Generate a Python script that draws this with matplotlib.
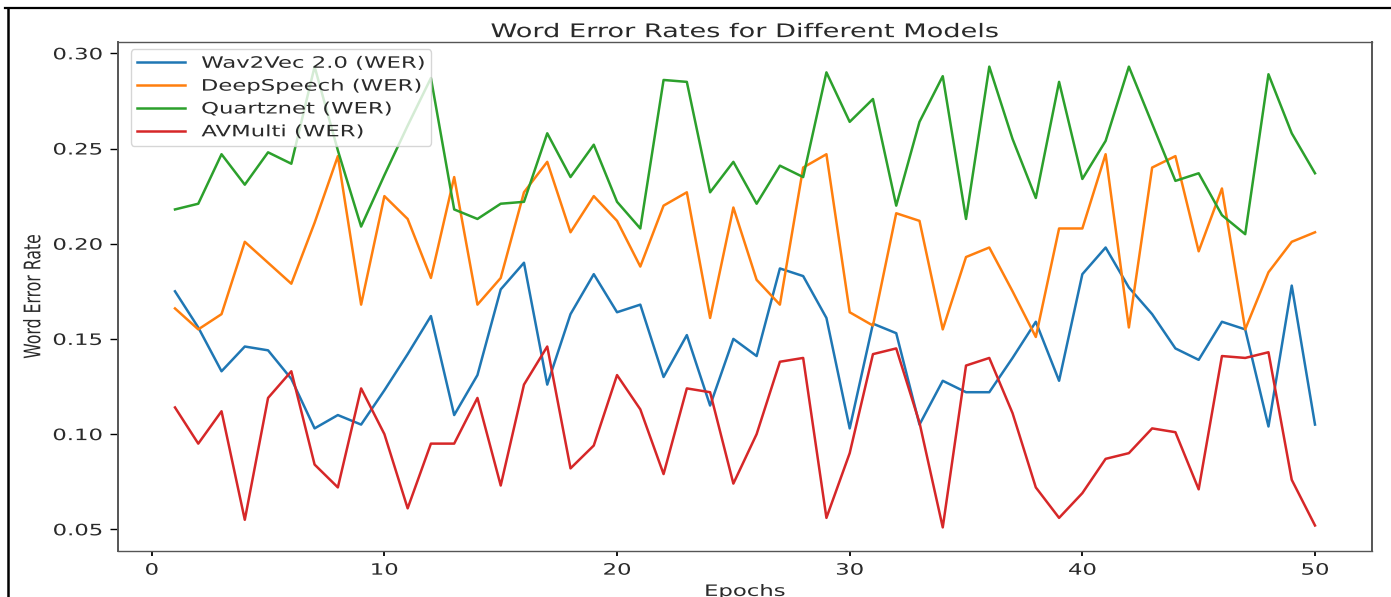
import matplotlib
matplotlib.use("Agg")
import matplotlib.pyplot as plt
from matplotlib.lines import Line2D
from matplotlib.patheffects import AbstractPathEffect
from matplotlib.transforms import Affine2D

# Word error rate per epoch for each model
epochs = list(range(1, 51))
wav2vec_wer = [0.175, 0.156, 0.133, 0.146, 0.144, 0.129, 0.103, 0.110, 0.105, 0.123,
               0.142, 0.162, 0.110, 0.131, 0.176, 0.190, 0.126, 0.163, 0.184, 0.164,
               0.168, 0.130, 0.152, 0.115, 0.150, 0.141, 0.187, 0.183, 0.161, 0.103,
               0.158, 0.153, 0.105, 0.128, 0.122, 0.122, 0.140, 0.159, 0.128, 0.184,
               0.198, 0.177, 0.163, 0.145, 0.139, 0.159, 0.155, 0.104, 0.178, 0.105]
deepspeech_wer = [0.166, 0.155, 0.163, 0.201, 0.190, 0.179, 0.211, 0.246, 0.168, 0.225,
                  0.213, 0.182, 0.235, 0.168, 0.182, 0.227, 0.243, 0.206, 0.225, 0.212,
                  0.188, 0.220, 0.227, 0.161, 0.219, 0.181, 0.168, 0.240, 0.247, 0.164,
                  0.157, 0.216, 0.212, 0.155, 0.193, 0.198, 0.175, 0.151, 0.208, 0.208,
                  0.247, 0.156, 0.240, 0.246, 0.196, 0.229, 0.155, 0.185, 0.201, 0.206]
quartznet_wer = [0.218, 0.221, 0.247, 0.231, 0.248, 0.242, 0.293, 0.249, 0.209, 0.236,
                 0.262, 0.287, 0.218, 0.213, 0.221, 0.222, 0.258, 0.235, 0.252, 0.222,
                 0.208, 0.286, 0.285, 0.227, 0.243, 0.221, 0.241, 0.235, 0.290, 0.264,
                 0.276, 0.220, 0.264, 0.288, 0.213, 0.293, 0.255, 0.224, 0.285, 0.234,
                 0.254, 0.293, 0.263, 0.233, 0.237, 0.215, 0.205, 0.289, 0.258, 0.237]
avmulti_wer = [0.114, 0.095, 0.112, 0.055, 0.119, 0.133, 0.084, 0.072, 0.124, 0.100,
               0.061, 0.095, 0.095, 0.119, 0.073, 0.126, 0.146, 0.082, 0.094, 0.131,
               0.113, 0.079, 0.124, 0.122, 0.074, 0.100, 0.138, 0.140, 0.056, 0.090,
               0.142, 0.145, 0.106, 0.051, 0.136, 0.140, 0.111, 0.072, 0.056, 0.069,
               0.087, 0.090, 0.103, 0.101, 0.071, 0.141, 0.140, 0.143, 0.076, 0.052]
series_labels = ["Wav2Vec 2.0 (WER)", "DeepSpeech (WER)", "Quartznet (WER)", "AVMulti (WER)"]
x_ticks = [0, 10, 20, 30, 40, 50]
y_ticks = [0.05, 0.10, 0.15, 0.20, 0.25, 0.30]

TEXT_COLOR = "#2a2a2a"
WIDE = 1.45  # horizontal widening of all lettering


class Stretch(AbstractPathEffect):
    """Draw text wider (or taller) around an anchor on its own path."""

    def __init__(self, sx=1.0, sy=1.0, anchor=0.0):
        super().__init__()
        self._sx, self._sy, self._anchor = sx, sy, anchor

    def draw_path(self, renderer, gc, tpath, affine, rgbFace=None):
        ext = tpath.get_extents()
        cx = ext.x0 + self._anchor * ext.width
        pre = Affine2D().translate(-cx, 0).scale(self._sx, self._sy).translate(cx, 0)
        renderer.draw_path(gc, tpath, pre + affine, rgbFace)


plt.rcParams["text.color"] = TEXT_COLOR
plt.rcParams["axes.labelcolor"] = TEXT_COLOR
plt.rcParams["xtick.labelcolor"] = TEXT_COLOR
plt.rcParams["ytick.labelcolor"] = TEXT_COLOR

fig = plt.figure(figsize=(13.91, 5.97), dpi=100)
ax = fig.add_axes([118 / 1391, 46 / 597, 1254 / 1391, 509.3 / 597])

for values, label in zip([wav2vec_wer, deepspeech_wer, quartznet_wer, avmulti_wer], series_labels):
    ax.plot(epochs, values, label=label, linewidth=1.8)

ax.set_xlim(-1.45, 52.45)
ax.set_ylim(0.0386, 0.3061)
ax.set_xticks(x_ticks)
ax.set_yticks(y_ticks)
ax.tick_params(axis="y", length=5.5, width=1.0, pad=5.7, labelsize=11.3)
ax.tick_params(axis="x", length=3.4, width=1.3, pad=5.0, labelsize=11.3)
for side, lw in [("left", 1.4), ("right", 1.4), ("top", 1.0), ("bottom", 1.0)]:
    ax.spines[side].set_linewidth(lw)
    ax.spines[side].set_color("#555555")

title = ax.set_title("Word Error Rates for Different Models", fontsize=13.5, pad=3.3)
title.set_path_effects([Stretch(sx=WIDE, anchor=0.5)])
xlab = ax.set_xlabel("Epochs", fontsize=11.3, labelpad=4.5)
xlab.set_path_effects([Stretch(sx=WIDE, anchor=0.5)])
ylab = ax.set_ylabel("Word Error Rate", fontsize=11.3)
ax.yaxis.set_label_coords(-0.0596, 0.5)
ylab.set_path_effects([Stretch(sy=WIDE)])

for lab in ax.get_yticklabels():
    lab.set_path_effects([Stretch(sx=WIDE, anchor=1.0)])
for lab in ax.get_xticklabels():
    lab.set_path_effects([Stretch(sx=WIDE, anchor=0.5)])

leg = ax.legend(loc="upper left", bbox_to_anchor=(0.0100, 0.9847, 0.2396, 0.0),
                mode="expand", borderaxespad=0.0, fontsize=11.3,
                handlelength=3.09, handletextpad=1.03)
for t in leg.get_texts():
    t.set_path_effects([Stretch(sx=WIDE, anchor=0.0)])

# outer frame lines (top and left)
fig.add_artist(Line2D([5 / 1391, 1.0], [1 - 8 / 597, 1 - 8 / 597],
                      transform=fig.transFigure, color="black", linewidth=1.6))
fig.add_artist(Line2D([7.5 / 1391, 7.5 / 1391], [0.0, 1 - 8 / 597],
                      transform=fig.transFigure, color="black", linewidth=1.8))

fig.savefig("out.png", dpi=100)
